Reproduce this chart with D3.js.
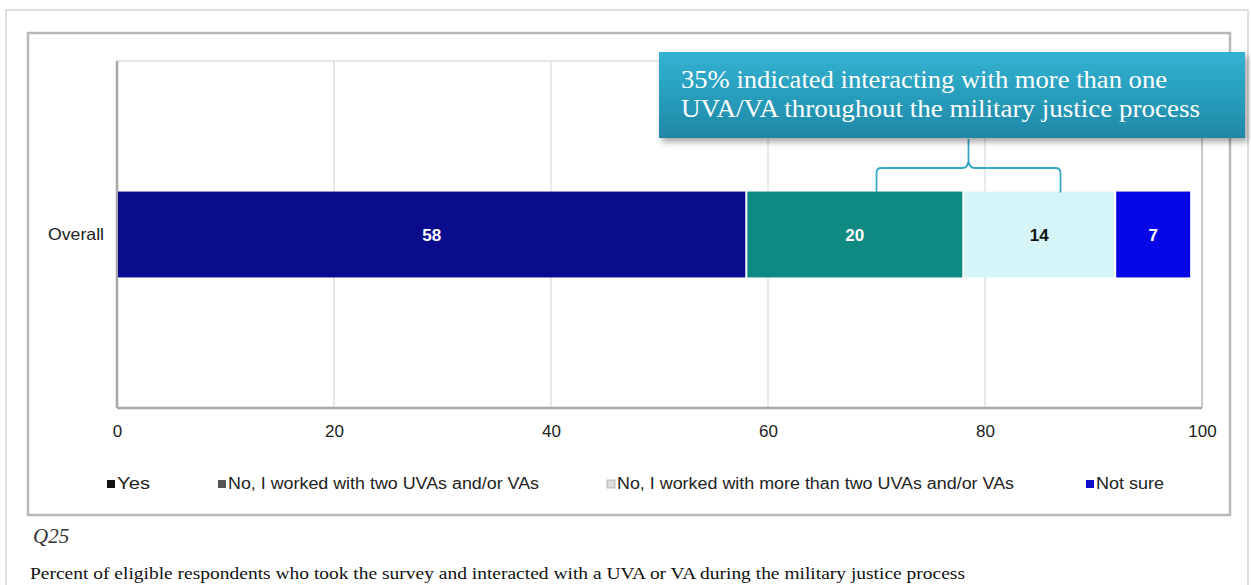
<!DOCTYPE html>
<html><head><meta charset="utf-8">
<script src="https://cdn.jsdelivr.net/npm/d3@7"></script>
<style>body{margin:0;background:#fff}svg{display:block}</style>
</head><body>
<svg id="c" width="1251" height="585"></svg>
<script>
const categories = ["Overall"];
const seriesNames = ["Yes","No, I worked with two UVAs and/or VAs","No, I worked with more than two UVAs and/or VAs","Not sure"];
const seriesValues = [58, 20, 14, 7];
const barColors = ["#0b0b8e","#0f8a82","#d6f5f7","#0707e6"];
const labelColors = ["#fff","#fff","#111","#fff"];
const legendColors = ["#111","#555","#ddd","#1010c8"];
const xTicks = [0,20,40,60,80,100];
const calloutLines = ["35% indicated interacting with more than one","UVA/VA throughout the military justice process"];
const questionLabel = "Q25";
const caption = "Percent of eligible respondents who took the survey and interacted with a UVA  or VA during the military justice process";

const svg = d3.select("#c");
const defs = svg.append("defs");
const g1 = defs.append("linearGradient").attr("id","box").attr("x1",0).attr("y1",0).attr("x2",0).attr("y2",1);
g1.append("stop").attr("offset","0%").attr("stop-color","#33b2d2");
g1.append("stop").attr("offset","100%").attr("stop-color","#1f88a6");
const f = defs.append("filter").attr("id","sh").attr("x","-5%").attr("y","-10%").attr("width","115%").attr("height","140%");
f.append("feDropShadow").attr("dx",3).attr("dy",4).attr("stdDeviation",3).attr("flood-color","#000").attr("flood-opacity",0.35);

const sans = "Liberation Sans, Arial, sans-serif";
const serif = "Liberation Serif, Times New Roman, serif";

// outer frame
svg.append("rect").attr("x",6).attr("y",10).attr("width",1242).attr("height",590)
  .attr("fill","none").attr("stroke","#d4d4d4").attr("stroke-width",1.5);
// chart frame
svg.append("rect").attr("x",28).attr("y",33).attr("width",1202).attr("height",482)
  .attr("fill","#fff").attr("stroke","#b8b8b8").attr("stroke-width",2.5);

const x = d3.scaleLinear().domain([0,100]).range([117,1202]);
const plotTop = 61, plotBottom = 408;
const y = d3.scaleBand().domain(categories).range([plotTop,plotBottom]).paddingInner(0).paddingOuter(1.52);

// gridlines
svg.append("g").selectAll("line").data(xTicks).join("line")
  .attr("x1",d=>x(d)).attr("x2",d=>x(d)).attr("y1",plotTop).attr("y2",plotBottom)
  .attr("stroke",(d,i)=> i===xTicks.length-1 ? "#b8b8b8" : "#d3d3d3").attr("stroke-width",(d,i)=> i===xTicks.length-1 ? 1.5 : 1);
svg.append("line").attr("x1",117).attr("x2",1202).attr("y1",plotTop).attr("y2",plotTop).attr("stroke","#d0d0d0");
svg.append("line").attr("x1",117).attr("x2",117).attr("y1",plotTop).attr("y2",plotBottom).attr("stroke","#a8a8a8").attr("stroke-width",2.5);
svg.append("line").attr("x1",117).attr("x2",1202).attr("y1",plotBottom).attr("y2",plotBottom).attr("stroke","#a8a8a8").attr("stroke-width",2.5);

// axis tick labels
const xAxis = d3.axisBottom(x).tickValues(xTicks).tickSize(0).tickPadding(0);
const ax = svg.append("g").attr("transform",`translate(0,${plotBottom+29})`).call(xAxis);
ax.select(".domain").remove();
ax.selectAll("text").attr("font-family",sans).attr("font-size",17).attr("fill","#222").attr("dy",0);

// y labels
const yAxis = d3.axisLeft(y).tickSize(0).tickPadding(13);
const ay = svg.append("g").attr("transform","translate(117,0)").call(yAxis);
ay.select(".domain").remove();
ay.selectAll("text").attr("font-family",sans).attr("font-size",16.5).attr("fill","#222")
  .attr("textLength",56).attr("lengthAdjust","spacingAndGlyphs");

// stacked bars
const stack = [];
let acc = 0;
seriesValues.forEach((v,i)=>{stack.push({i,v,x0:acc,x1:acc+v}); acc+=v;});
const bars = svg.append("g");
categories.forEach(cat=>{
  bars.selectAll("rect.b").data(stack).join("rect").attr("class","b")
    .attr("x",d=>x(d.x0)+1).attr("width",d=>x(d.x1)-x(d.x0)-2)
    .attr("y",y(cat)).attr("height",y.bandwidth())
    .attr("fill",d=>barColors[d.i]);
  bars.selectAll("text.l").data(stack).join("text").attr("class","l")
    .attr("x",d=>(x(d.x0)+x(d.x1))/2).attr("y",y(cat)+y.bandwidth()/2+6)
    .attr("text-anchor","middle").attr("font-family",sans)
    .attr("font-weight","bold").attr("font-size",17).attr("fill",d=>labelColors[d.i])
    .text(d=>d.v);
});

// bracket
const barTop = y(categories[0]);
const bx0 = x(stack[1].x0 + stack[1].v*0.6), bx1 = x(stack[2].x0 + stack[2].v*0.64);
const bmid = (bx0+bx1)/2;
const bp = d3.path();
bp.moveTo(bx0, barTop+1); bp.lineTo(bx0, 173); bp.quadraticCurveTo(bx0,168,bx0+5,168);
bp.lineTo(bmid-6,168); bp.quadraticCurveTo(bmid-1,168,bmid,161); bp.lineTo(bmid,139);
bp.moveTo(bmid,161); bp.quadraticCurveTo(bmid+1,168,bmid+6,168); bp.lineTo(bx1-5,168);
bp.quadraticCurveTo(bx1,168,bx1,173); bp.lineTo(bx1,barTop+1);
svg.append("path").attr("d",bp.toString()).attr("fill","none").attr("stroke","#38a8c4").attr("stroke-width",1.8);

// callout box
svg.append("rect").attr("x",659).attr("y",52).attr("width",586).attr("height",86)
  .attr("fill","url(#box)").attr("filter","url(#sh)");
const calloutWidths = [486, 519];
svg.append("g").selectAll("text").data(calloutLines).join("text")
  .attr("x",681).attr("y",(d,i)=>88+i*29)
  .attr("font-family",serif).attr("font-size",25.5).attr("fill","#fff")
  .attr("textLength",(d,i)=>calloutWidths[i]).attr("lengthAdjust","spacingAndGlyphs")
  .text(d=>d);

// legend
const legX = [107, 218, 607, 1086];
const legW = [33, 311, 397, 68];
const leg = svg.append("g");
seriesNames.forEach((n,i)=>{
  leg.append("rect").attr("x",legX[i]).attr("y",480).attr("width",8).attr("height",8).attr("fill",legendColors[i])
    .attr("stroke", i===2 ? "#aaa" : "none").attr("stroke-width",0.8);
  leg.append("text").attr("x",legX[i]+10).attr("y",489)
    .attr("font-family",sans).attr("font-size",16).attr("fill","#222")
    .attr("textLength",legW[i]).attr("lengthAdjust","spacingAndGlyphs").text(n);
});

svg.append("text").attr("x",33).attr("y",543).attr("font-family",serif)
  .attr("font-style","italic").attr("font-size",21).attr("fill","#333").text(questionLabel);
svg.append("text").attr("x",30).attr("y",579).attr("font-family",serif)
  .attr("font-size",17.5).attr("fill","#111")
  .attr("textLength",935).attr("lengthAdjust","spacingAndGlyphs").text(caption);
</script>
</body></html>
